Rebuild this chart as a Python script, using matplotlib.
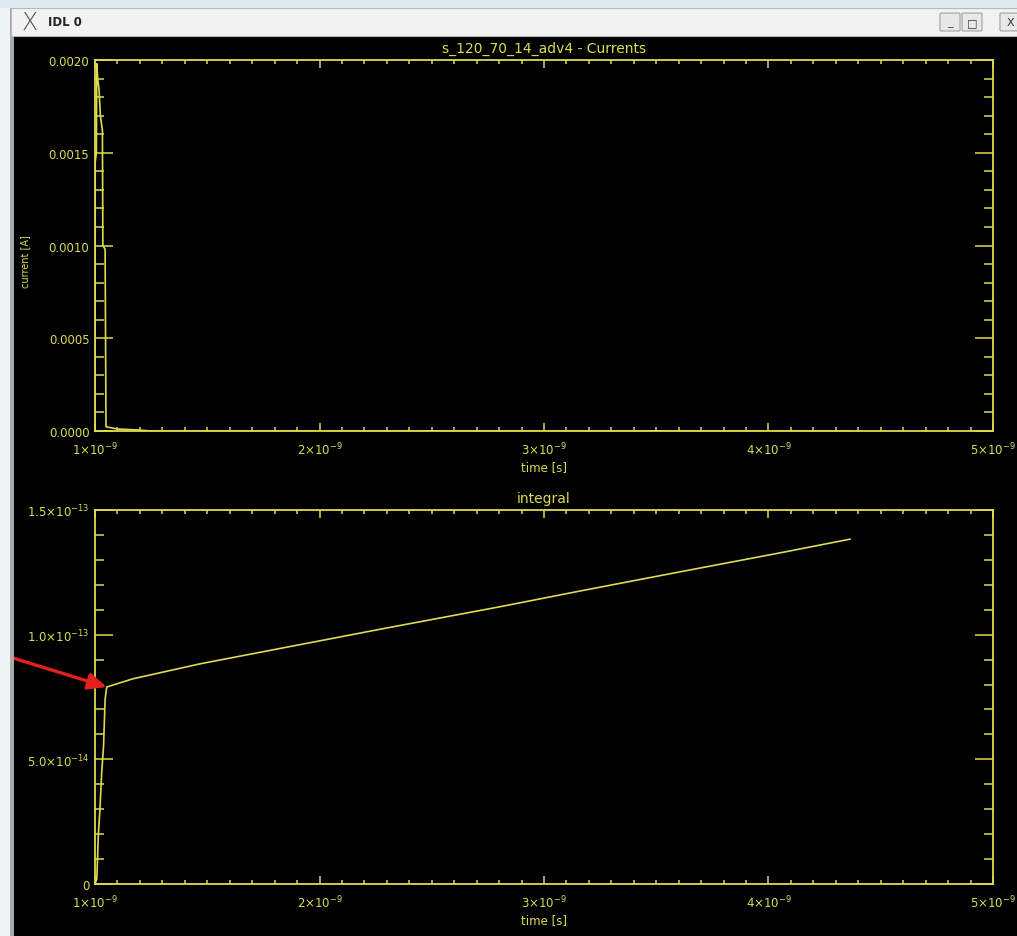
import numpy as np
import matplotlib
matplotlib.use("Agg")
import matplotlib.pyplot as plt
from matplotlib.patches import Rectangle, FancyBboxPatch

# ---------------- data ----------------
# current trace (time in ns, current in mA)
cur_t_ns = [1.000, 1.001, 1.006, 1.008, 1.012, 1.018, 1.024, 1.033, 1.035,
            1.045, 1.049, 1.098, 1.200, 1.250, 4.360]
cur_mA = [0.0, 1.45, 1.50, 1.98, 1.90, 1.84, 1.70, 1.62, 1.00,
          0.98, 0.023, 0.011, 0.005, 0.0, 0.0]

# integral trace (time in ns, charge in 1e-13 C)
int_t_ns = [1.000, 1.008, 1.015, 1.022, 1.030, 1.038, 1.045, 1.052, 1.169,
            1.468, 1.913, 2.283, 2.804, 3.160, 3.606, 4.051, 4.363]
int_e13 = [0.0, 0.02, 0.20, 0.30, 0.45, 0.55, 0.74, 0.79, 0.823,
           0.883, 0.960, 1.024, 1.112, 1.175, 1.252, 1.328, 1.383]

xticks = [1e-9, 2e-9, 3e-9, 4e-9, 5e-9]
xtick_labels = [r'$1{\times}10^{-9}$', r'$2{\times}10^{-9}$', r'$3{\times}10^{-9}$',
                r'$4{\times}10^{-9}$', r'$5{\times}10^{-9}$']
top_yticks = [0.0, 0.0005, 0.0010, 0.0015, 0.0020]
top_ytick_labels = ['0.0000', '0.0005', '0.0010', '0.0015', '0.0020']
bot_yticks = [0.0, 5e-14, 1e-13, 1.5e-13]
bot_ytick_labels = ['0', r'$5.0{\times}10^{-14}$', r'$1.0{\times}10^{-13}$', r'$1.5{\times}10^{-13}$']

title_top = 's_120_70_14_adv4 - Currents'
title_bot = 'integral'
xlabel = 'time [s]'
ylabel_top = 'current [A]'

# ---------------- style ----------------
W, H = 1017, 937
YEL = '#dcdc52'
plt.rcParams['font.family'] = ['DejaVu Sans']
plt.rcParams['mathtext.fontset'] = 'dejavusans'

fig = plt.figure(figsize=(W / 100, H / 100), dpi=100, facecolor='black')


def fx(px):
    return px / W


def fy(py):
    return 1 - py / H


# window chrome
fig.patches.append(Rectangle((0, fy(9)), 1, 9 / H, transform=fig.transFigure,
                             facecolor='#dcecf0', edgecolor='none', zorder=0))
fig.patches.append(Rectangle((0, 0), fx(11), fy(9), transform=fig.transFigure,
                             facecolor='#eef3f5', edgecolor='none', zorder=0))
fig.patches.append(Rectangle((fx(10), 0), fx(4), fy(9), transform=fig.transFigure,
                             facecolor='#a9a9a9', edgecolor='none', zorder=0))
fig.patches.append(Rectangle((fx(11), fy(37)), 1, 28 / H, transform=fig.transFigure,
                             facecolor='#f2f2f2', edgecolor='#b8b8b8', lw=0.8, zorder=0))
fig.text(fx(30), fy(23), 'X', fontsize=17, color='#555555', ha='center', va='center',
         family='DejaVu Sans', fontweight='light')
fig.text(fx(48), fy(23), 'IDL 0', fontsize=8.5, color='#222222', ha='left', va='center',
         fontweight='bold')
for cx, sym in [(950, '_'), (972, '\u25a1'), (1010, 'X')]:
    fig.patches.append(FancyBboxPatch((fx(cx - 9), fy(31)), fx(18), 16 / H,
                                      boxstyle='round,pad=0.001', transform=fig.transFigure,
                                      facecolor='#e8e8e8', edgecolor='#a0a0a0', lw=0.8))
    fig.text(fx(cx), fy(23), sym, fontsize=8, color='#333333', ha='center', va='center')

# axes
ax1 = fig.add_axes([fx(95), fy(432), fx(993 - 95), (432 - 61) / H])
ax2 = fig.add_axes([fx(95), fy(885), fx(993 - 95), (885 - 511) / H])

t_cur = np.array(cur_t_ns) * 1e-9
i_cur = np.array(cur_mA) * 1e-3
t_int = np.array(int_t_ns) * 1e-9
v_int = np.array(int_e13) * 1e-13

ax1.plot(t_cur, i_cur, color=YEL, lw=1.2)
ax2.plot(t_int, v_int, color=YEL, lw=1.2)

for ax, yt, ytl, ylim in [(ax1, top_yticks, top_ytick_labels, (0, 0.002)),
                          (ax2, bot_yticks, bot_ytick_labels, (0, 1.5e-13))]:
    ax.set_facecolor('black')
    ax.set_xlim(1e-9, 5e-9)
    ax.set_ylim(*ylim)
    ax.set_xticks(xticks)
    ax.set_xticklabels(xtick_labels)
    ax.set_yticks(yt)
    ax.set_yticklabels(ytl)
    ax.set_xticks(np.arange(1, 5, 0.1)[1:] * 1e-9, minor=True)
    step = (yt[1] - yt[0]) / 5
    ax.set_yticks(np.arange(ylim[0], ylim[1] + step / 2, step), minor=True)
    for s in ax.spines.values():
        s.set_color(YEL)
        s.set_linewidth(1.3)
    ax.tick_params(axis='x', which='major', direction='in', length=5.5, width=1.1,
                   colors=YEL, top=True, labelsize=8.5, pad=7)
    ax.tick_params(axis='x', which='minor', direction='in', length=2.8, width=1.1,
                   colors=YEL, top=True)
    ax.tick_params(axis='y', which='major', direction='in', length=13, width=1.1,
                   colors=YEL, right=True, labelsize=8.5, pad=4)
    ax.tick_params(axis='y', which='minor', direction='in', length=6.5, width=1.1,
                   colors=YEL, right=True)
    ax.set_xlabel(xlabel, color=YEL, fontsize=8.5, labelpad=2)

ax1.set_title(title_top, color=YEL, fontsize=10, pad=6)
ax2.set_title(title_bot, color=YEL, fontsize=10, pad=6)
ax1.set_ylabel(ylabel_top, color=YEL, fontsize=7)
ax1.yaxis.set_label_coords((30 - 95) / 898, (432 - 262) / 371)

# red annotation arrow pointing at the knee of the integral curve
knee = 7
ax2.annotate('', xy=(t_int[knee], v_int[knee]), xycoords='data',
             xytext=(0, fy(655)), textcoords='figure fraction',
             arrowprops=dict(arrowstyle='-|>,head_length=1.1,head_width=0.5',
                             color='#e3201b', lw=2.4, shrinkA=0, shrinkB=0),
             annotation_clip=False)

fig.savefig('out.png', dpi=100, facecolor='black')
